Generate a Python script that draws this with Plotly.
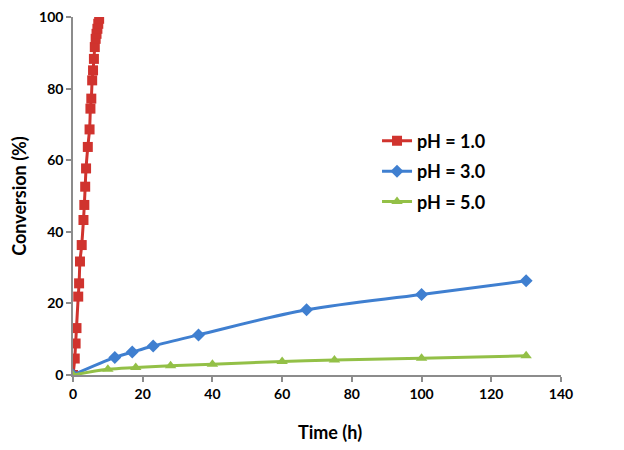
import plotly.graph_objects as go

# pH = 1.0
t_ph1 = [0, 0.5, 0.75, 1.0, 1.5, 1.75, 2.0, 2.5, 3.0, 3.25, 3.5, 3.75, 4.25,
         4.75, 5.0, 5.25, 5.5, 5.75, 6.0, 6.25, 6.5, 6.75, 7.0, 7.25, 7.5]
c_ph1 = [0, 4.6, 8.8, 13.1, 21.9, 25.6, 31.7, 36.3, 43.3, 47.5, 52.6, 57.7, 63.7,
         68.6, 74.4, 77.2, 82.3, 85.1, 88.3, 91.6, 93.9, 95.3, 96.7, 98.1, 99.5]

# pH = 3.0
t_ph3 = [0, 12, 17, 23, 36, 67, 100, 130]
c_ph3 = [0, 4.9, 6.4, 8.1, 11.2, 18.2, 22.5, 26.3]

# pH = 5.0
t_ph5 = [0, 10, 18, 28, 40, 60, 75, 100, 130]
c_ph5 = [0, 1.6, 2.1, 2.6, 3.0, 3.8, 4.2, 4.7, 5.35]

x_ticks = [0, 20, 40, 60, 80, 100, 120, 140]
y_ticks = [0, 20, 40, 60, 80, 100]

RED = "#D0332E"
BLUE = "#3F7FD0"
GREEN = "#93C047"
FONT = "Lato"

fig = go.Figure()
fig.add_trace(go.Scatter(x=t_ph1, y=c_ph1, name="pH = 1.0", mode="lines+markers", legendgroup="a",
                         line=dict(color=RED, width=3, shape="spline"),
                         marker=dict(symbol="square", size=10, color=RED)))
fig.add_trace(go.Scatter(x=t_ph3, y=c_ph3, name="pH = 3.0", mode="lines+markers", legendgroup="b",
                         line=dict(color=BLUE, width=3, shape="spline"),
                         marker=dict(symbol="diamond", size=10, color=BLUE)))
fig.add_trace(go.Scatter(x=t_ph5, y=c_ph5, name="pH = 5.0", mode="lines+markers", legendgroup="c",
                         line=dict(color=GREEN, width=3, shape="spline"),
                         marker=dict(symbol="triangle-up", size=10, color=GREEN)))

axis_common = dict(showgrid=False, zeroline=False, showline=True, linecolor="#8C8C8C",
                   linewidth=1.5, ticks="outside", ticklen=5, tickcolor="#8C8C8C",
                   tickwidth=1.5, automargin=False, ticklabeloverflow="allow",
                   tickfont=dict(family=FONT, size=14, color="black", weight="bold"))

fig.update_xaxes(range=[0, 140], tickvals=x_ticks, ticktext=[str(v) for v in x_ticks],
                 **axis_common)
fig.update_yaxes(range=[0, 100], tickvals=y_ticks, ticktext=[str(v) for v in y_ticks],
                 title=dict(text="<b>Conversion (%)</b>", font=dict(family=FONT, size=18, color="black"), standoff=12),
                 **axis_common)

fig.add_annotation(text="<b>Time (h)</b>", xref="paper", yref="paper", x=0.526, y=0,
                   xanchor="center", yanchor="middle", yshift=-57, showarrow=False,
                   font=dict(family=FONT, size=18, color="black"))

fig.update_layout(
    width=616, height=442,
    margin=dict(l=65, r=63, t=9, b=75),
    paper_bgcolor="white", plot_bgcolor="white",
    legend=dict(x=0.623, y=0.705, xanchor="left", yanchor="top",
                traceorder="grouped",
                font=dict(family=FONT, size=18, color="black", weight="bold"),
                itemwidth=30, tracegroupgap=4, bgcolor="rgba(0,0,0,0)"),
)

fig.write_html("out.html")
